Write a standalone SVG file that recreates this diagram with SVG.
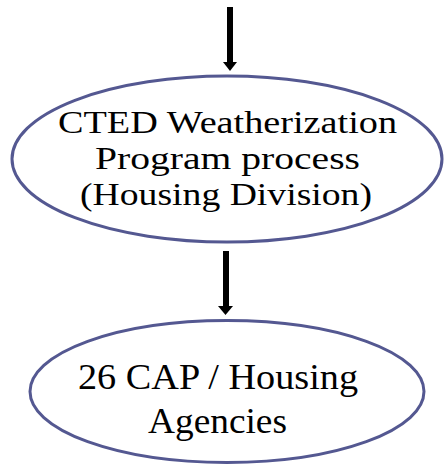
<svg xmlns="http://www.w3.org/2000/svg" width="444" height="466" viewBox="0 0 444 466">
<style>
.node{fill:#fff;stroke:#545891;stroke-width:3}
.t{font-family:"Liberation Serif","DejaVu Serif",serif;font-size:32.5px;fill:#000;text-anchor:middle}
.t2{font-family:"Liberation Serif","DejaVu Serif",serif;font-size:35px;fill:#000;text-anchor:middle}
.c{stroke:#000;stroke-width:6;fill:none}
</style>
<g id="connectors">
<line class="c" x1="230" y1="7" x2="230" y2="62"/>
<path d="M223,62 L237,62 L230,71 Z" fill="#000"/>
<line class="c" x1="226" y1="251" x2="226" y2="307"/>
<path d="M218,306 L233,306 L225.5,315 Z" fill="#000"/>
</g>
<g id="node1">
<ellipse class="node" cx="227" cy="159" rx="215" ry="83"/>
<text class="t" x="227.5" y="133" textLength="339" lengthAdjust="spacingAndGlyphs">CTED Weatherization</text>
<text class="t" x="227.5" y="169" textLength="265" lengthAdjust="spacingAndGlyphs">Program process</text>
<text class="t" x="226" y="205" textLength="292" lengthAdjust="spacingAndGlyphs">(Housing Division)</text>
</g>
<g id="node2">
<ellipse class="node" cx="227" cy="391.5" rx="197" ry="71"/>
<text class="t2" x="218" y="389" textLength="280" lengthAdjust="spacingAndGlyphs">26 CAP / Housing</text>
<text class="t2" x="217.5" y="433" textLength="139" lengthAdjust="spacingAndGlyphs">Agencies</text>
</g>
</svg>
